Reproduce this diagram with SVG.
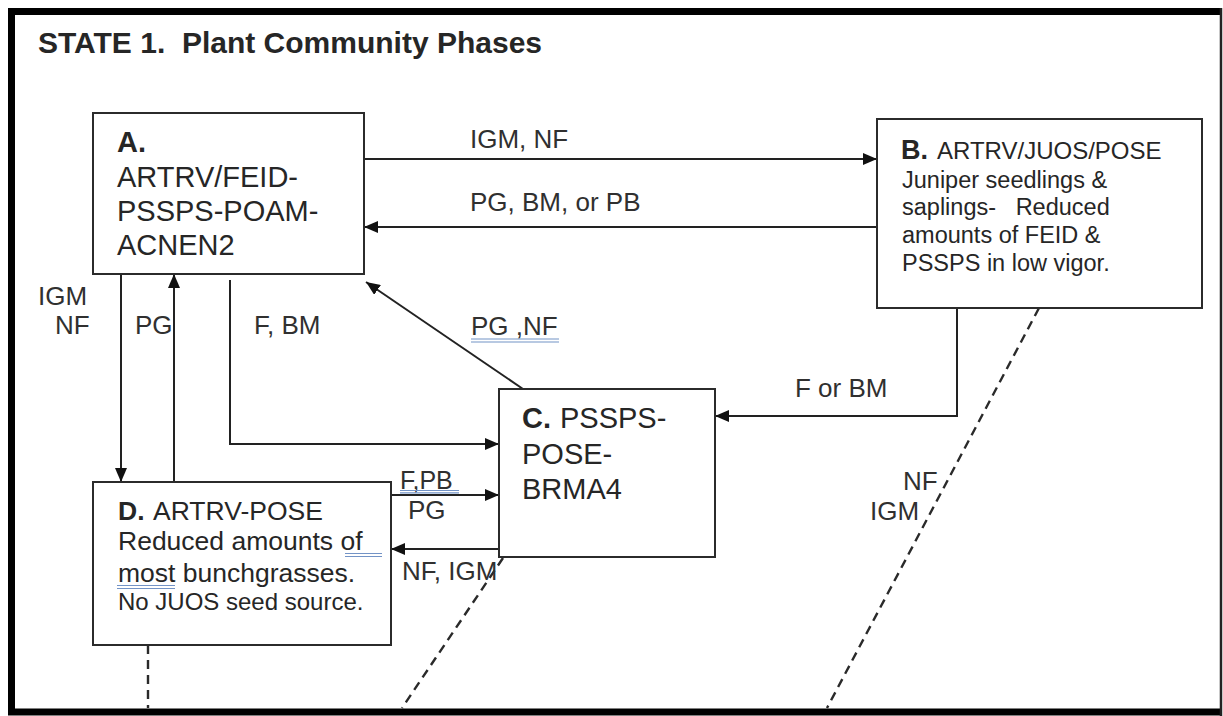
<svg xmlns="http://www.w3.org/2000/svg" width="1223" height="716" viewBox="0 0 1223 716">
<style>
text{font-family:"Liberation Sans",Arial,sans-serif;fill:#262626}
.title{font-size:30px;font-weight:bold;white-space:pre}
.box{fill:#fff;stroke:#2b2b2b;stroke-width:2}
.b{font-weight:bold}
.lbl{font-size:26px;fill:#303030}
.conn{fill:none;stroke:#222;stroke-width:2}
.dash{fill:none;stroke:#2a2a2a;stroke-width:2.4;stroke-dasharray:9 6}
.ul{stroke:#7393c6;stroke-width:1.2}
</style>
<defs>
<marker id="ah" markerUnits="userSpaceOnUse" markerWidth="14" markerHeight="12" viewBox="0 0 14 12" refX="14" refY="6" orient="auto">
<path d="M0,0 L14,6 L0,12 z" fill="#111"/>
</marker>
</defs>
<rect x="0" y="0" width="1223" height="716" fill="#fff"/>
<g id="frame">
<path d="M1221,11.5 H11.5 V712 H1221" fill="none" stroke="#000" stroke-width="7"/>
<line x1="1221" y1="8" x2="1221" y2="716" stroke="#222" stroke-width="2.5"/>
</g>
<text class="title" x="38" y="53" xml:space="preserve">STATE 1.  Plant Community Phases</text>
<g id="connectors">
<path class="conn" d="M364,159 H877" marker-end="url(#ah)"/>
<path class="conn" d="M877,227 H364" marker-end="url(#ah)"/>
<path class="conn" d="M121,274 V482" marker-end="url(#ah)"/>
<path class="conn" d="M174,482 V274" marker-end="url(#ah)"/>
<path class="conn" d="M230,280 V444 H499" marker-end="url(#ah)"/>
<path class="conn" d="M523,389 L366,282" marker-end="url(#ah)"/>
<path class="conn" d="M957,308 V416 H715" marker-end="url(#ah)"/>
<path class="conn" d="M391,495 H499" marker-end="url(#ah)"/>
<path class="conn" d="M499,549 H391" marker-end="url(#ah)"/>
<path class="dash" d="M148,645 V708"/>
<path class="dash" d="M503,558 L402,708"/>
<path class="dash" d="M1039,308 L827,708"/>
<text class="lbl" x="470" y="148">IGM, NF</text>
<text class="lbl" x="470" y="211">PG, BM, or PB</text>
<text class="lbl" x="38" y="305">IGM</text>
<text class="lbl" x="55" y="334">NF</text>
<text class="lbl" x="135" y="334">PG</text>
<text class="lbl" x="254" y="334">F, BM</text>
<text class="lbl" x="471" y="335">PG ,NF</text>
<line class="ul" x1="471" y1="339" x2="559" y2="339"/>
<line class="ul" x1="471" y1="342" x2="559" y2="342"/>
<text class="lbl" x="795" y="397">F or BM</text>
<text class="lbl" x="400" y="489" style="font-size:25px">F,PB</text>
<line class="ul" x1="400" y1="490.5" x2="459" y2="490.5"/>
<line class="ul" x1="400" y1="492.8" x2="459" y2="492.8"/>
<text class="lbl" x="408" y="519">PG</text>
<text class="lbl" x="402" y="580">NF, IGM</text>
<text class="lbl" x="903" y="490">NF</text>
<text class="lbl" x="870" y="520">IGM</text>
</g>
<g id="node-A">
<rect class="box" x="93" y="113" width="271" height="161"/>
<text x="117" y="152" style="font-size:29px" class="b">A.</text>
<text x="117" y="187" style="font-size:29px">ARTRV/FEID-</text>
<text x="117" y="221" style="font-size:29px">PSSPS-POAM-</text>
<text x="117" y="255" style="font-size:29px">ACNEN2</text>
</g>
<g id="node-B">
<rect class="box" x="877" y="119" width="325" height="189"/>
<text x="901" y="159"><tspan class="b" style="font-size:27px">B.</tspan><tspan x="937" style="font-size:24px">ARTRV/JUOS/POSE</tspan></text>
<text x="902" y="188" style="font-size:23.5px">Juniper seedlings &amp;</text>
<text x="902" y="215" style="font-size:23.5px;white-space:pre" xml:space="preserve">saplings-   Reduced</text>
<text x="902" y="243" style="font-size:23.5px">amounts of FEID &amp;</text>
<text x="902" y="271" style="font-size:23.5px">PSSPS in low vigor.</text>
</g>
<g id="node-C">
<rect class="box" x="499" y="389" width="216" height="168"/>
<text x="522" y="428" style="font-size:29px"><tspan class="b">C.</tspan><tspan x="560">PSSPS-</tspan></text>
<text x="522" y="464" style="font-size:29px">POSE-</text>
<text x="522" y="499" style="font-size:29px">BRMA4</text>
</g>
<g id="node-D">
<rect class="box" x="93" y="482" width="298" height="163"/>
<text x="118" y="520" style="font-size:26.5px"><tspan class="b">D.</tspan><tspan x="153">ARTRV-POSE</tspan></text>
<text x="118" y="550" style="font-size:26.5px">Reduced amounts of</text>
<line class="ul" x1="345" y1="553.5" x2="382" y2="553.5"/>
<line class="ul" x1="345" y1="556.5" x2="382" y2="556.5"/>
<text x="118" y="582" style="font-size:26.5px">most bunchgrasses.</text>
<line class="ul" x1="117" y1="585.5" x2="175" y2="585.5"/>
<line class="ul" x1="117" y1="588.5" x2="175" y2="588.5"/>
<text x="118" y="610" style="font-size:24px">No JUOS seed source.</text>
</g>
</svg>
